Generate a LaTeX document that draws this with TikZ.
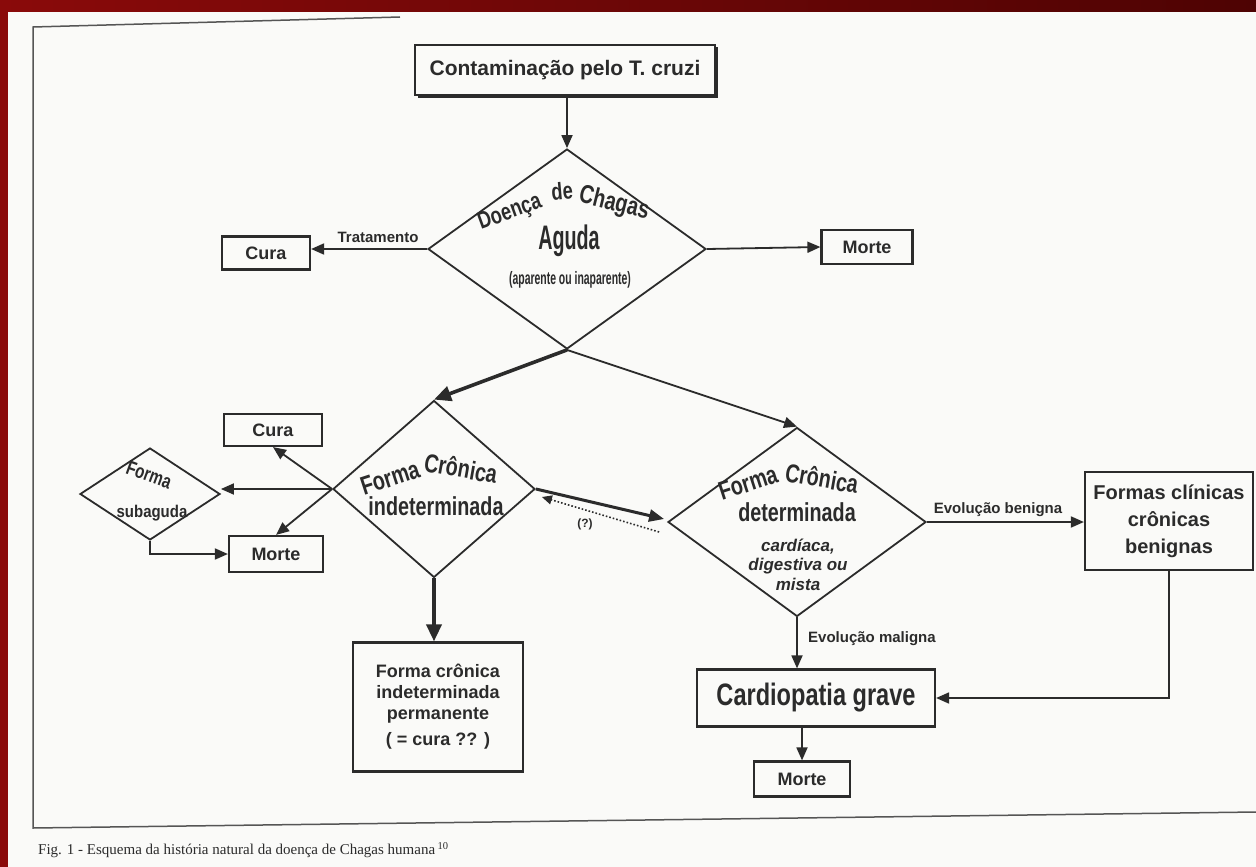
\documentclass[tikz,border=0pt]{standalone}
\usepackage{fontspec}
\setmainfont{Liberation Sans}
\newfontfamily\cndA[FakeStretch=0.76]{Liberation Sans}
\newfontfamily\cndB[FakeStretch=0.58]{Liberation Sans}
\newfontfamily\cndC[FakeStretch=0.88]{Liberation Sans}
\newfontfamily\capfont{Liberation Serif}
\newcommand\setfs[2]{\fontsize{#1}{#2}\selectfont}
\usetikzlibrary{arrows.meta,shapes.geometric,calc,shadows}
\definecolor{ink}{HTML}{2B2B2B}
\definecolor{paper}{HTML}{FAFAF8}
\definecolor{bandA}{HTML}{8A0A0A}
\definecolor{bandB}{HTML}{4E0303}
\begin{document}
\begin{tikzpicture}[x=1pt,y=-1pt,
  box/.style={draw=ink,line width=2.2pt,rectangle,inner sep=0pt,text=ink,align=center,fill=paper},
  dia/.style={draw=ink,line width=1.8pt,diamond,inner sep=0pt,aspect=1},
  lbl/.style={text=ink,inner sep=0pt},
  arr/.style={draw=ink,line width=1.8pt,-{Triangle[length=13pt,width=11pt]}},
  heavyarr/.style={draw=ink,line width=3.6pt,-{Triangle[length=17pt,width=15pt]}},
  dotarr/.style={draw=ink,line width=1.6pt,dotted,-{Triangle[length=10pt,width=9pt]}},
  fbox/.style={font=\bfseries\setfs{18}{21}},
  fdia/.style={font=\cndA\bfseries\setfs{26}{28}},
  fsmall/.style={font=\bfseries\setfs{15}{17}}]
\useasboundingbox (0,0) rectangle (1256,867);
% background: scanned page on a red border
\shade[left color=bandA,right color=bandB] (0,0) rectangle (1256,867);
\fill[paper] (8,12) rectangle (1256,867);
% outer frame
\draw[ink!80,line width=1.5pt] (400,17) -- (33,27) -- (33,828) -- (1256,812);

% top box
\node[box,minimum width=300pt,minimum height=50pt,font=\bfseries\setfs{21}{24},
      drop shadow={shadow xshift=2.5pt,shadow yshift=-2.5pt,fill=ink,opacity=1}] (B1) at (565,70) {Contaminação pelo T. cruzi};

% diamond 1
\node[dia,minimum width=278pt,minimum height=200pt] (D1) at (567,249) {};
\node[lbl,font=\cndA\bfseries\setfs{24}{26},rotate=20] (t1a) at (510,213) {Doença};
\node[lbl,font=\cndA\bfseries\setfs{24}{26},rotate=5] (t1b) at (562,191) {de};
\node[lbl,font=\cndA\bfseries\setfs{26}{28},rotate=-14] (t1c) at (614,204) {Chagas};
\node[lbl,font=\cndB\bfseries\setfs{34}{36}] (t1d) at (569,241) {Aguda};
\node[lbl,font=\cndB\bfseries\setfs{18}{20}] (t1e) at (570,280) {(aparente ou inaparente)};

\node[box,minimum width=88pt,minimum height=33pt,fbox] (Cura1) at (266,253) {Cura};
\node[box,minimum width=91pt,minimum height=34pt,fbox] (Morte1) at (867,247) {Morte};

\draw[arr] (B1.south -| D1.north) -- (D1.north);
\draw[arr] (D1.west) -- (Cura1.east |- D1.west);
\node[lbl,fsmall,anchor=south] (trat) at (378,243) {Tratamento};
\draw[arr] (D1.east) -- (Morte1.west);

% diamond 2
\node[dia,minimum width=202pt,minimum height=177pt] (D2) at (434,489) {};
\node[lbl,fdia,rotate=18] (t2a) at (390,478) {Forma};
\node[lbl,fdia,rotate=-10] (t2b) at (461,468) {Crônica};
\node[lbl,fdia] (t2c) at (436,506) {indeterminada};

% diamond 3
\node[dia,minimum width=258pt,minimum height=189pt] (D3) at (797,522) {};
\node[lbl,fdia,rotate=18] (t3a) at (748,483) {Forma};
\node[lbl,fdia,rotate=-10] (t3b) at (822,478) {Crônica};
\node[lbl,fdia] (t3c) at (797,512) {determinada};
\node[lbl,font=\bfseries\itshape\setfs{17}{18}] (t3d) at (798,547) {cardíaca,};
\node[lbl,font=\bfseries\itshape\setfs{17}{18}] (t3e) at (798,566) {digestiva ou};
\node[lbl,font=\bfseries\itshape\setfs{17}{18}] (t3f) at (798,584) {mista};

\draw[heavyarr] (D1.south) -- (D2.north);
\draw[arr] (D1.south) -- (D3.north);

% diamond 4 (subaguda)
\node[dia,minimum width=140pt,minimum height=92pt] (D4) at (150,494) {};
\node[lbl,font=\cndA\bfseries\setfs{20}{22},rotate=-20] (t4a) at (149,475) {Forma};
\node[lbl,font=\cndC\bfseries\setfs{17}{19}] (t4b) at (152,513) {subaguda};

\node[box,minimum width=98pt,minimum height=32pt,fbox] (Cura2) at (273,430) {Cura};
\node[box,minimum width=94pt,minimum height=36pt,fbox] (Morte2) at (276,554) {Morte};

\draw[arr] (D2.west) -- (Cura2.south);
\draw[arr] (D2.west) -- (D2.west -| D4.east);
\draw[arr] (D2.west) -- (Morte2.north);
\draw[arr] (D4.south) |- (Morte2.west);

% permanent box
\node[box,minimum width=170pt,minimum height=129pt,font=\bfseries\setfs{18}{21}] (Perm) at (438,707)
  {Forma crônica\\indeterminada\\permanente\\[5pt]( = cura ?? )};
\draw[heavyarr] (D2.south) -- (D2.south |- Perm.north);

% between D2 and D3
\draw[heavyarr,line width=3pt,-{Triangle[length=15pt,width=12pt]}] (D2.east) -- ($(D3.west)+(-3,-3)$);
\draw[dotarr] ($(D3.west)+(-8,10)$) -- ($(D2.east)+(6,8)$);
\node[lbl,font=\bfseries\setfs{12}{14}] (q) at (585,524) {(?)};

% right side
\node[box,minimum width=168pt,minimum height=98pt,font=\bfseries\setfs{20}{27}] (Ben) at (1169,521)
  {Formas clínicas\\crônicas\\benignas};
\draw[arr] (D3.east) -- (D3.east -| Ben.west);
\node[lbl,fsmall,anchor=south] (evb) at (998,517) {Evolução benigna};

\node[box,minimum width=238pt,minimum height=57pt,font=\cndA\bfseries\setfs{31}{33}] (Card) at (816,698) {Cardiopatia grave};
\draw[arr] (D3.south) -- (D3.south |- Card.north);
\node[lbl,fsmall,anchor=west] (evm) at (808,639) {Evolução maligna};
\draw[arr] (Ben.south) |- (Card.east);

\node[box,minimum width=96pt,minimum height=35pt,fbox] (Morte3) at (802,779) {Morte};
\draw[arr] (Card.south -| Morte3.north) -- (Morte3.north);

% caption
\node[lbl,anchor=west,font=\capfont\setfs{15}{18}] (cap) at (38,850)
  {Fig. 1 - Esquema da história natural da doença de Chagas humana\,\textsuperscript{10}};
\end{tikzpicture}
\end{document}
